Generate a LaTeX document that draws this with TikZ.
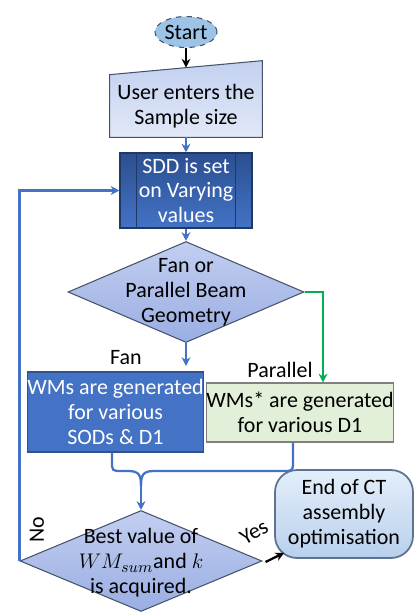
\documentclass[tikz,border=0pt]{standalone}
\usepackage{fontspec}
\setmainfont{Carlito}
\usetikzlibrary{arrows.meta,positioning,shapes.geometric,calc}

\definecolor{lineblue}{HTML}{4472C4}
\definecolor{linegreen}{HTML}{00B050}
\definecolor{edgegrey}{HTML}{44546A}
\definecolor{sddtop}{HTML}{2B4F8F}
\definecolor{sddbot}{HTML}{4373C6}
\definecolor{sddedge}{HTML}{203864}
\definecolor{fanfill}{HTML}{4472C4}
\definecolor{fanedge}{HTML}{2F528F}
\definecolor{parfill}{HTML}{E2F0D9}
\definecolor{paredge}{HTML}{7F7F7F}
\definecolor{diatop}{HTML}{C3CEF0}
\definecolor{diabot}{HTML}{9AAEE3}
\definecolor{startfill}{HTML}{9DC3E6}
\definecolor{inputtop}{HTML}{C3D1F0}
\definecolor{inputbot}{HTML}{E1E8F7}
\definecolor{endtop}{HTML}{E3EEFA}
\definecolor{endbot}{HTML}{B9D0EC}
\definecolor{endedge}{HTML}{5C7391}
\pgfdeclarelayer{background}
\pgfsetlayers{background,main}

\begin{document}
\begin{tikzpicture}[>={Stealth[length=5pt,width=5pt]},x=0.02cm,y=-0.02cm,
    font=\fontsize{12.5}{14.2}\selectfont,
    flowline/.style={draw=lineblue,line width=1.3pt},
    decision/.style={diamond,draw=edgegrey,line width=0.6pt,inner sep=0pt,top color=diatop,bottom color=diabot}]

    \useasboundingbox (0,0) rectangle (415,613);

    % Start
    \node (start) [ellipse,draw=edgegrey,dashed,line width=0.6pt,fill=startfill,
        minimum width=1.24cm,minimum height=0.62cm,inner sep=0pt] at (186,32) {Start};

    % Manual input: sample size
    \node (input) [minimum width=3.04cm,minimum height=1.24cm,inner sep=0pt,align=center] at (186,106)
        {User enters the\\Sample size};
    \begin{pgfonlayer}{background}
        \shadedraw [draw=edgegrey,line width=0.6pt,top color=inputtop,bottom color=inputbot]
            (input.south west) -- (input.south east) -- ($(input.north east)+(0,-14)$)
            -- (input.north west) -- cycle;
    \end{pgfonlayer}

    % SDD predefined process
    \node (sdd) [minimum width=2.64cm,minimum height=1.5cm,inner sep=0pt,align=center,text=white,
        draw=sddedge,line width=0.6pt,top color=sddtop,bottom color=sddbot] at (186,190.5)
        {SDD is set\\on Varying\\values};
    \draw [sddedge,line width=0.6pt] ($(sdd.north west)+(17,0)$) -- ($(sdd.south west)+(17,0)$);
    \draw [sddedge,line width=0.6pt] ($(sdd.north east)+(-17,0)$) -- ($(sdd.south east)+(-17,0)$);

    % Geometry decision
    \node (dia1) [decision,minimum width=4.72cm,minimum height=2.02cm] at (186,292) {};
    \node (dia1text) [align=center] at (dia1) {Fan or\\Parallel Beam\\Geometry};

    % Fan branch
    \node (fan) [minimum width=3.5cm,minimum height=1.6cm,inner sep=0pt,align=center,text=white,
        fill=fanfill,draw=fanedge,line width=0.6pt] at (115.5,412)
        {WMs are generated\\for various\\SODs \& D1};
    \node (fanlbl) at (126,358) {Fan};
    \coordinate (fanend) at (186,366);

    % Parallel branch
    \node (par) [minimum width=3.64cm,minimum height=1.18cm,inner sep=0pt,align=center,
        fill=parfill,draw=paredge,line width=0.6pt] at (300,412.5)
        {WMs* are generated\\for various D1};
    \node (parlbl) at (280,370) {Parallel};

    % Best value decision
    \node (dia2) [decision,minimum width=4.84cm,minimum height=2.02cm] at (141,561) {};
    \node (dia2text) [align=center,inner sep=1pt] at (141,563) {Best value of\\$WM_{sum}$and $k$\\is acquired.};

    % End
    \node (end) [minimum width=2.76cm,minimum height=1.76cm,inner sep=0pt,align=center,
        rounded corners=0.44cm,draw=endedge,line width=1pt,
        top color=endtop,bottom color=endbot] at (344,514)
        {End of CT\\assembly\\optimisation};

    % Connectors
    \draw [->,line width=1.3pt] (start.south) -- ($(input.north)+(0,-7)$);
    \draw [->,flowline] (input.south) -- (sdd.north);
    \draw [->,flowline] (sdd.south) -- (dia1.north);
    \draw [->,flowline] (dia1.south) -- (fanend);
    \draw [->,draw=linegreen,line width=1.3pt] (dia1.east) -| ($(par.north)+(23,0)$);

    % Merge of the two branches
    \coordinate (merge) at (141,486);
    \draw [flowline] ($(fan.south)+(-3.5,0)$) -- (112,461) .. controls (112,471) .. (122,471)
        -- (128,471) .. controls (139,471) and (141,475) .. (merge);
    \draw [flowline] ($(par.south)+(-7,0)$) -- (293,461) .. controls (293,471) .. (283,471)
        -- (154,471) .. controls (143,471) and (141,475) .. (merge);
    \draw [->,flowline] (merge) -- (dia2.north);

    % No loop back to SDD
    \draw [->,flowline] (dia2.west) |- (sdd.west);
    \node (nolbl) [rotate=90] at (37,530) {No};

    % Yes to end
    \draw [->,line width=1.3pt] ($(dia2.east)+(3,1)$) -- ($(end.south west)+(10,-6)$);
    \node (yeslbl) [rotate=30,inner sep=1pt] at (254,532) {Yes};

\end{tikzpicture}
\end{document}
